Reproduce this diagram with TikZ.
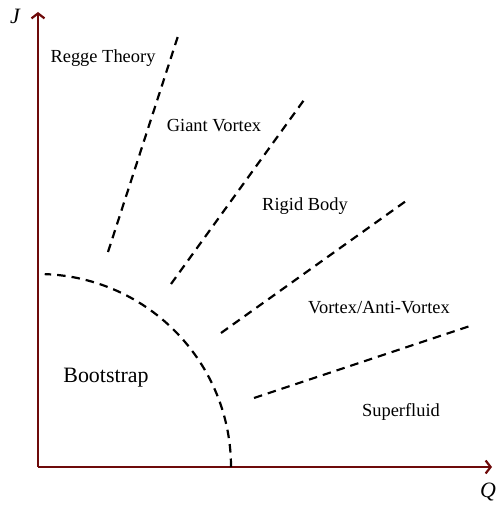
\documentclass[tikz,border=0pt]{standalone}
\usepackage{fontspec}
\setmainfont{Liberation Serif}
\usetikzlibrary{arrows.meta}
\definecolor{axisred}{HTML}{6E0A0A}
\begin{document}
\begin{tikzpicture}[x=1bp,y=-1bp,
  axis/.style={draw=axisred,line width=2.2bp,-{Straight Barb[length=5bp,width=13bp]}},
  border/.style={draw=black,line width=2.2bp,dash pattern=on 8.5bp off 6bp},
  region/.style={anchor=base,inner sep=0pt,font=\fontsize{18.5}{20}\selectfont},
  bigregion/.style={anchor=base,inner sep=0pt,font=\fontsize{22}{24}\selectfont},
  axlabel/.style={inner sep=0pt,font=\fontsize{22}{24}\selectfont\itshape}]
\useasboundingbox (0,0) rectangle (496,507);
\coordinate (O) at (38,467);
\coordinate (Jend) at (38,12);
\coordinate (Qend) at (492,467);
\draw[axis] (O) -- (Jend);
\draw[axis] (O) -- (Qend);
\node[axlabel] (J) at (15,16) {J};
\node[axlabel] (Q) at (488,492) {Q};
% dashed boundaries
\coordinate (a1) at (108,252); \coordinate (a2) at (178,36);
\coordinate (b1) at (171,284); \coordinate (b2) at (304,100);
\coordinate (c1) at (221,333); \coordinate (c2) at (406,201);
\coordinate (d1) at (254,398); \coordinate (d2) at (470,326);
\draw[border] (a1) -- (a2);
\draw[border] (b1) -- (b2);
\draw[border] (c1) -- (c2);
\draw[border] (d1) -- (d2);
\draw[border] (231,467) arc[start angle=0,end angle=-88,radius=193];
% labels
\node[region] (regge) at (103,63) {Regge Theory};
\node[region] (giant) at (214,132) {Giant Vortex};
\node[region] (rigid) at (305,210) {Rigid Body};
\node[region] (vav) at (379,313) {Vortex/Anti-Vortex};
\node[region] (sf) at (401,416) {Superfluid};
\node[bigregion] (boot) at (106,382) {Bootstrap};
\end{tikzpicture}
\end{document}
